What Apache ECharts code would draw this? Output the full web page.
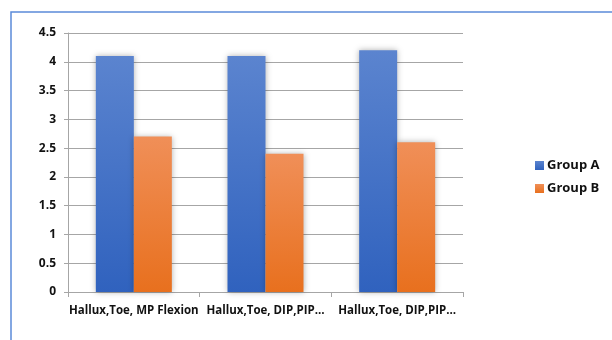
<!DOCTYPE html>
<html>

<head>
    <meta charset="utf-8">
</head>

<body style="margin: 0; background: #fff">
    <div id="container" style="width: 612px; height: 340px"></div>
    <script type="text/javascript" src="https://cdn.jsdelivr.net/npm/echarts@6/dist/echarts.min.js"></script>
    <script>
        var categories = ['Hallux,Toe, MP Flexion', 'Hallux,Toe, DIP,PIP…', 'Hallux,Toe, DIP,PIP…']
        var groupA = [4.1, 4.1, 4.2]
        var groupB = [2.7, 2.4, 2.6]
        var seriesNames = ['Group A', 'Group B']

        var myChart = echarts.init(document.getElementById('container'))

        function grad(top, bottom) {
            return new echarts.graphic.LinearGradient(0, 0, 0, 1, [
                { offset: 0, color: top },
                { offset: 1, color: bottom }
            ])
        }

        var labelFont = {
            fontFamily: 'Open Sans',
            fontWeight: 'bold',
            fontSize: 11.5,
            color: '#111'
        }

        var option = {
            animation: false,
            graphic: [{
                type: 'rect',
                shape: { x: 11, y: 12, width: 700, height: 400 },
                style: { fill: 'none', stroke: '#5b8bd9', lineWidth: 1.5 },
                silent: true
            }],
            grid: { left: 68, right: 149, top: 33, bottom: 48 },
            legend: {
                orient: 'vertical',
                left: 535,
                top: 159,
                padding: 0,
                itemWidth: 9,
                itemHeight: 9,
                itemGap: 10,
                icon: 'rect',
                textStyle: {
                    fontFamily: 'Open Sans',
                    fontWeight: 'bold',
                    fontSize: 13,
                    color: '#111',
                    padding: [0, 0, 0, -2]
                },
                data: seriesNames
            },
            xAxis: {
                type: 'category',
                data: categories,
                axisLine: { lineStyle: { color: '#a6a6a6' } },
                axisTick: { show: true, length: 5, lineStyle: { color: '#a6a6a6' } },
                axisLabel: Object.assign({ margin: 13, interval: 0 }, labelFont)
            },
            yAxis: {
                type: 'value',
                min: 0,
                max: 4.5,
                interval: 0.5,
                axisLine: { show: true, lineStyle: { color: '#a6a6a6' } },
                axisTick: { show: true, length: 4, lineStyle: { color: '#a6a6a6' } },
                splitLine: { lineStyle: { color: '#a6a6a6' } },
                axisLabel: Object.assign({ margin: 12 }, labelFont, { fontSize: 12 })
            },
            series: [{
                name: seriesNames[0],
                type: 'bar',
                data: groupA,
                barWidth: 38,
                barGap: '0%',
                itemStyle: {
                    color: grad('#5b84cf', '#3062be'),
                    shadowBlur: 6,
                    shadowColor: 'rgba(0,0,0,0.3)'
                }
            }, {
                name: seriesNames[1],
                type: 'bar',
                data: groupB,
                barWidth: 38,
                itemStyle: {
                    color: grad('#f08f58', '#e8701e'),
                    shadowBlur: 6,
                    shadowColor: 'rgba(0,0,0,0.3)'
                }
            }]
        }
        myChart.setOption(option)
    </script>

</body>

</html>
